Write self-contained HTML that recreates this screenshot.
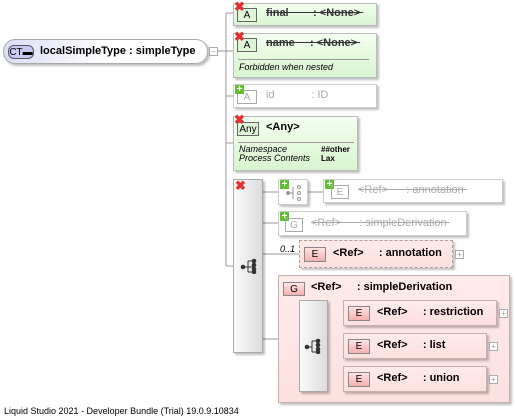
<!DOCTYPE html>
<html><head><meta charset="utf-8"><style>
body{margin:0;width:516px;height:418px;background:#fff;position:relative;overflow:hidden;font-family:"Liberation Sans",sans-serif;font-size:11px;color:#000}
.b{position:absolute;box-sizing:border-box;box-shadow:2px 2px 2px rgba(0,0,0,.25)}
.grn{background:linear-gradient(#f4fff0,#d8f5d0);border:1px solid #bbb}
.fad{background:#fff;border:1px solid #ccc;color:#aaa}
.pink{background:linear-gradient(#ffeaea,#fde0e0);border:1px solid #c9b0b0}
.seq{background:linear-gradient(90deg,#fafafa,#dcdcdc);border:1px solid #aaa}
.t{position:absolute;white-space:nowrap;font-weight:bold}
.tag{position:absolute;box-sizing:border-box;border:1px solid #777;font-size:10px;text-align:center;line-height:13px;font-weight:normal}
.tagE{background:linear-gradient(#ffe4e4,#f4b0b0);border-color:#888;color:#000}
.tagA{background:#dff5d8;border-color:#666}
.x{position:absolute;width:11px;height:11px;color:#e03030;font-size:13px;line-height:11px;font-weight:bold}
.pl{position:absolute;width:9px;height:9px;background:#5fbf2f;color:#fff;font-size:10px;line-height:9px;text-align:center;font-weight:bold}
.ex{position:absolute;width:7px;height:7px;border:1px solid #aaa;font-size:8px;line-height:7px;text-align:center;color:#999;background:#fff}
.strike{text-decoration:line-through}
</style></head><body>
<svg style="position:absolute;left:0;top:0" width="516" height="418">
<g stroke="#999" fill="none">
<path d="M216 51H226M226 13V266M226 13H233M226 51H233M226 96H233M226 143H233M226 266H233"/>
<path d="M263 192H278M308 192H323M263 223H278M263 254H299M263 339H299M328 313H343M328 346H343M328 379H343"/>
</g>
</svg>
<div class="b" style="left:3px;top:39px;width:205px;height:25px;border:1px solid #aaa;border-radius:12px;background:linear-gradient(90deg,#dcdcf8,#fff 50%)"></div>
<div class="tag" style="left:8px;top:45px;width:26px;height:14px;border-radius:6px;background:#c8c8f0;border-color:#556">CT▬</div>
<div class="t" style="left:40px;top:45px;font-size:11px">localSimpleType : simpleType</div>
<div class="ex" style="left:209px;top:47px">−</div>
<div class="b grn" style="left:233px;top:3px;width:144px;height:23px"></div>
<div class="tag tagA" style="left:237px;top:8px;width:20px;height:14px">A</div>
<div class="x" style="left:234px;top:1px">✖</div>
<div class="t strike" style="left:266px;top:7px;color:#333">final&nbsp;&nbsp;&nbsp;&nbsp;&nbsp;&nbsp;&nbsp;&nbsp;: &lt;None&gt;&nbsp;</div>
<div class="b grn" style="left:233px;top:33px;width:144px;height:45px"></div>
<div class="tag tagA" style="left:237px;top:38px;width:20px;height:14px">A</div>
<div class="x" style="left:234px;top:31px">✖</div>
<div class="t strike" style="left:266px;top:37px;color:#333">name&nbsp;&nbsp;&nbsp;&nbsp;&nbsp;: &lt;None&gt;&nbsp;</div>
<div style="position:absolute;left:238px;top:59px;width:131px;border-top:1px solid #999"></div>
<div style="position:absolute;left:239px;top:62px;font-size:9px;font-style:italic">Forbidden when nested</div>
<div class="b fad" style="left:233px;top:84px;width:144px;height:24px"></div>
<div class="tag" style="left:237px;top:90px;width:20px;height:14px;border-color:#aaa;color:#aaa">A</div>
<div class="pl" style="left:235px;top:85px">+</div>
<div class="t" style="left:266px;top:89px;color:#aaa;font-weight:normal">id&nbsp;&nbsp;&nbsp;&nbsp;&nbsp;&nbsp;&nbsp;&nbsp;&nbsp;&nbsp;&nbsp;&nbsp;: ID</div>
<div class="b grn" style="left:233px;top:116px;width:125px;height:55px"></div>
<div class="tag tagA" style="left:237px;top:122px;width:22px;height:14px">Any</div>
<div class="x" style="left:234px;top:114px">✖</div>
<div class="t" style="left:266px;top:121px">&lt;Any&gt;</div>
<div style="position:absolute;left:238px;top:142px;width:116px;border-top:1px solid #999"></div>
<div style="position:absolute;left:239px;top:145px;font-size:9px;font-style:italic;line-height:9px">Namespace<br>Process Contents</div>
<div style="position:absolute;left:321px;top:145px;font-size:8px;font-weight:bold;line-height:9px">##other<br>Lax</div>
<div class="b seq" style="left:233px;top:179px;width:30px;height:174px"></div>
<div class="x" style="left:235px;top:180px">✖</div>
<svg style="position:absolute;left:240px;top:258px" width="18" height="16"><g fill="#333" stroke="#333"><circle cx="3" cy="9" r="1.8"/><line x1="3" y1="9" x2="8" y2="9"/><line x1="8" y1="3" x2="8" y2="14"/><line x1="8" y1="3" x2="14" y2="3"/><line x1="8" y1="9" x2="14" y2="9"/><line x1="8" y1="14" x2="14" y2="14"/><circle cx="14" cy="3" r="1.8"/><circle cx="14" cy="7" r="1.8"/><circle cx="14" cy="11" r="1.8"/><circle cx="14" cy="14" r="1.8"/></g></svg>
<div class="b fad" style="left:278px;top:179px;width:30px;height:26px"></div>
<div class="pl" style="left:280px;top:180px">+</div>
<svg style="position:absolute;left:285px;top:184px" width="18" height="18"><g fill="#999" stroke="#999"><circle cx="3" cy="9" r="1.5"/><line x1="3" y1="9" x2="8" y2="9"/><line x1="8" y1="3" x2="8" y2="15"/><circle cx="14" cy="3" r="1.5" fill="none"/><circle cx="14" cy="9" r="1.5" fill="none"/><circle cx="14" cy="15" r="1.5" fill="none"/></g></svg>
<div class="b fad" style="left:323px;top:179px;width:180px;height:24px"></div>
<div class="pl" style="left:325px;top:180px">+</div>
<div class="tag" style="left:331px;top:185px;width:18px;height:14px;border-color:#aaa;color:#aaa">E</div>
<div class="t strike" style="left:358px;top:184px;color:#aaa;font-weight:normal">&lt;Ref&gt;&nbsp;&nbsp;&nbsp;&nbsp;&nbsp;&nbsp;: annotation&nbsp;</div>
<div class="b fad" style="left:278px;top:211px;width:189px;height:25px"></div>
<div class="pl" style="left:280px;top:212px">+</div>
<div class="tag" style="left:285px;top:218px;width:18px;height:14px;border-color:#aaa;color:#aaa">G</div>
<div class="t strike" style="left:311px;top:217px;color:#aaa;font-weight:normal">&lt;Ref&gt;&nbsp;&nbsp;&nbsp;&nbsp;&nbsp;&nbsp;: simpleDerivation&nbsp;</div>
<div style="position:absolute;left:280px;top:244px;font-size:9px;font-style:italic">0..1</div>
<div class="b pink" style="left:299px;top:240px;width:154px;height:28px;border:1px dashed #b99"></div>
<div class="tag tagE" style="left:304px;top:247px;width:22px;height:15px">E</div>
<div class="t" style="left:333px;top:247px">&lt;Ref&gt;&nbsp;&nbsp;&nbsp;&nbsp;&nbsp;: annotation</div>
<div class="ex" style="left:455px;top:250px">+</div>
<div class="b pink" style="left:278px;top:275px;width:232px;height:128px"></div>
<div class="tag tagE" style="left:283px;top:282px;width:22px;height:14px">G</div>
<div class="t" style="left:311px;top:281px">&lt;Ref&gt;&nbsp;&nbsp;&nbsp;&nbsp;&nbsp;: simpleDerivation</div>
<div class="b seq" style="left:299px;top:300px;width:29px;height:92px"></div>
<svg style="position:absolute;left:304px;top:338px" width="18" height="16"><g fill="#333" stroke="#333"><circle cx="3" cy="9" r="1.8"/><line x1="3" y1="9" x2="8" y2="9"/><line x1="8" y1="3" x2="8" y2="14"/><line x1="8" y1="3" x2="14" y2="3"/><line x1="8" y1="14" x2="14" y2="14"/><circle cx="14" cy="3" r="1.8"/><circle cx="14" cy="7" r="1.8"/><circle cx="14" cy="11" r="1.8"/><circle cx="14" cy="14" r="1.8"/></g></svg>
<div class="b pink" style="left:343px;top:300px;width:154px;height:26px"></div>
<div class="tag tagE" style="left:348px;top:306px;width:22px;height:15px">E</div>
<div class="t" style="left:377px;top:306px">&lt;Ref&gt;&nbsp;&nbsp;&nbsp;&nbsp;&nbsp;: restriction</div>
<div class="ex" style="left:499px;top:309px">+</div>
<div class="b pink" style="left:343px;top:333px;width:144px;height:26px"></div>
<div class="tag tagE" style="left:348px;top:339px;width:22px;height:15px">E</div>
<div class="t" style="left:377px;top:339px">&lt;Ref&gt;&nbsp;&nbsp;&nbsp;&nbsp;&nbsp;: list</div>
<div class="ex" style="left:489px;top:342px">+</div>
<div class="b pink" style="left:343px;top:366px;width:144px;height:26px"></div>
<div class="tag tagE" style="left:348px;top:372px;width:22px;height:15px">E</div>
<div class="t" style="left:377px;top:372px">&lt;Ref&gt;&nbsp;&nbsp;&nbsp;&nbsp;&nbsp;: union</div>
<div class="ex" style="left:489px;top:375px">+</div>
<div style="position:absolute;left:4px;top:406px;font-size:9px">Liquid Studio 2021 - Developer Bundle (Trial) 19.0.9.10834</div>
</body></html>
